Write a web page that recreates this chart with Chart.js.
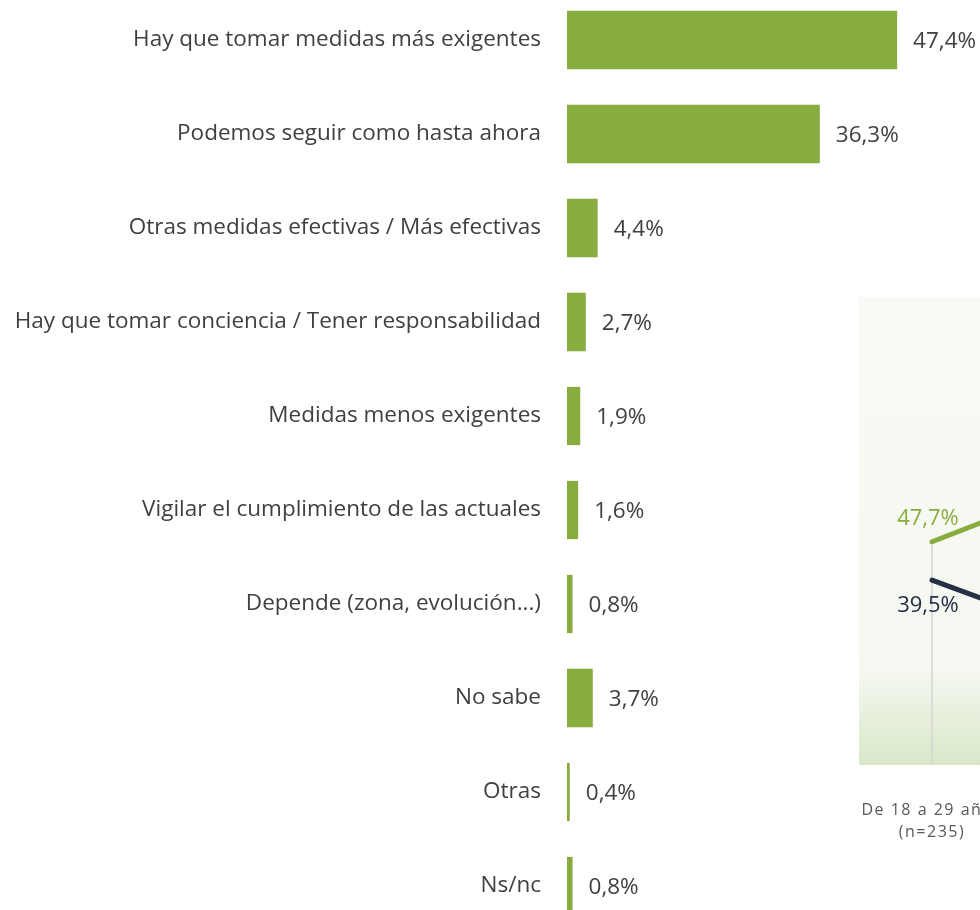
<!DOCTYPE html>
<html>
<head>
<meta charset="utf-8">
<script src="https://cdn.jsdelivr.net/npm/chart.js@4.4.0/dist/chart.umd.min.js"></script>
<style>
  html, body { margin: 0; padding: 0; background: #fff; overflow: hidden; width: 980px; height: 910px; }
  #barChart { position: absolute; left: 0; top: -7px; }
  #lineChart { position: absolute; left: 859px; top: 297px; }
</style>
</head>
<body>
<canvas id="barChart" width="980" height="940"></canvas>
<canvas id="lineChart" width="292" height="613"></canvas>
<script>
// Respuestas (total)
const categories = [
    "Hay que tomar medidas más exigentes",
    "Podemos seguir como hasta ahora",
    "Otras medidas efectivas / Más efectivas",
    "Hay que tomar conciencia / Tener responsabilidad",
    "Medidas menos exigentes",
    "Vigilar el cumplimiento de las actuales",
    "Depende (zona, evolución...)",
    "No sabe",
    "Otras",
    "Ns/nc"
];
const values = [47.4, 36.3, 4.4, 2.7, 1.9, 1.6, 0.8, 3.7, 0.4, 0.8];

// Por edad (panel de la derecha, solo se ve el primer grupo)
const ageGroups = [["De 18 a 29 años", "(n=235)"], ["De 30 a 44 años", "(n=338)"]];
const masExigentes = [47.7, 59.8];
const seguirIgual = [39.5, 28.0];

const FONT = "'Open Sans', 'Noto Sans', sans-serif";
const GREEN = "#89ac3e";
const NAVY = "#252f45";
const TEXT = "#404040";

const fmt = v => v.toFixed(1).replace('.', ',') + '%';

const barLabels = {
    id: 'barLabels',
    afterDatasetsDraw(chart) {
        const ctx = chart.ctx;
        const meta = chart.getDatasetMeta(0);
        ctx.save();
        ctx.font = `22.5px ${FONT}`;
        ctx.fillStyle = TEXT;
        ctx.textAlign = 'left';
        ctx.textBaseline = 'middle';
        meta.data.forEach((bar, i) => {
            ctx.fillText(fmt(values[i]), bar.x + 16, bar.y + 2);
        });
        ctx.restore();
    }
};

new Chart(document.getElementById('barChart'), {
    type: 'bar',
    data: {
        labels: categories,
        datasets: [{ data: values, backgroundColor: GREEN, barPercentage: 0.62, categoryPercentage: 1 }]
    },
    options: {
        indexAxis: 'y',
        responsive: false,
        animation: false,
        layout: { padding: 0, autoPadding: false },
        plugins: { legend: { display: false }, tooltip: { enabled: false } },
        scales: {
            x: { display: false, min: 0, max: 59.3 },
            y: {
                grid: { display: false, drawTicks: false },
                border: { display: false },
                ticks: { color: TEXT, font: { family: FONT, size: 22.5 }, padding: 26 },
                afterFit(scale) { scale.width = 567; scale.paddingTop = 0; scale.paddingBottom = 0; }
            }
        }
    },
    plugins: [barLabels]
});

const panel = {
    id: 'panel',
    beforeDraw(chart) {
        const { ctx, chartArea: a } = chart;
        const g = ctx.createLinearGradient(0, a.top, 0, a.bottom);
        g.addColorStop(0, '#f8faf5');
        g.addColorStop(0.8, '#f5f8f0');
        g.addColorStop(1, '#d8e7c8');
        ctx.save();
        ctx.fillStyle = g;
        ctx.fillRect(a.left, a.top, a.right - a.left, a.bottom - a.top);
        // lineas verticales desde el valor mas alto
        const m0 = chart.getDatasetMeta(0), m1 = chart.getDatasetMeta(1);
        ctx.strokeStyle = '#d3d6d0';
        ctx.lineWidth = 1.5;
        m0.data.forEach((p, i) => {
            const top = Math.min(p.y, m1.data[i].y);
            ctx.beginPath();
            ctx.moveTo(p.x, top);
            ctx.lineTo(p.x, a.bottom);
            ctx.stroke();
        });
        ctx.restore();
        ctx.letterSpacing = '1.5px';
    },
    afterDatasetsDraw(chart) {
        const ctx = chart.ctx;
        ctx.save();
        ctx.letterSpacing = '0px';
        ctx.font = `22px ${FONT}`;
        ctx.textAlign = 'center';
        ctx.textBaseline = 'middle';
        chart.getDatasetMeta(0).data.forEach((p, i) => {
            ctx.fillStyle = GREEN;
            ctx.fillText(fmt(masExigentes[i]), p.x - 4, p.y - 23);
        });
        chart.getDatasetMeta(1).data.forEach((p, i) => {
            ctx.fillStyle = NAVY;
            ctx.fillText(fmt(seguirIgual[i]), p.x - 4, p.y + 26);
        });
        ctx.restore();
    }
};

new Chart(document.getElementById('lineChart'), {
    type: 'line',
    data: {
        labels: ageGroups,
        datasets: [
            { data: masExigentes, borderColor: GREEN, borderWidth: 5, pointRadius: 0, borderCapStyle: 'round', tension: 0 },
            { data: seguirIgual, borderColor: NAVY, borderWidth: 5, pointRadius: 0, borderCapStyle: 'round', tension: 0 }
        ]
    },
    options: {
        responsive: false,
        animation: false,
        layout: { padding: 0, autoPadding: false },
        plugins: { legend: { display: false }, tooltip: { enabled: false } },
        scales: {
            x: {
                offset: true,
                grid: { display: false, drawTicks: false },
                border: { display: false },
                ticks: { color: '#595959', font: { family: FONT, size: 16, lineHeight: 1.4 }, padding: 34, maxRotation: 0, autoSkip: false },
                afterFit(scale) { scale.height = 145; scale.paddingLeft = 0; scale.paddingRight = 0; }
            },
            y: { display: false, min: 0, max: 100 }
        }
    },
    plugins: [panel]
});
</script>
</body>
</html>
